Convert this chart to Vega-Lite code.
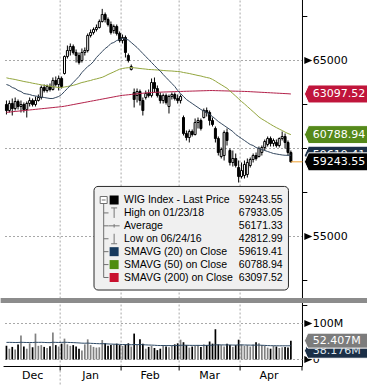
{
"$schema":"https://vega.github.io/schema/vega-lite/v6.json",
"width":307,"height":366,
"autosize":{"type":"none"},
"padding":{"left":0,"top":0,"right":60,"bottom":20},
"background":"#ffffff",
"config":{"view":{"stroke":null},"axis":{"disable":true},"legend":{"disable":true},"text":{"font":"DejaVu Sans","fontSize":11,"color":"#000000"}},
"data":{"values":[{}]},
"datasets":{
"mb":[{"b":18.5},{"b":39.5},{"b":59.5},{"b":80.5},{"b":101.8333}],
"mon":[{"m":"Dec","mid":9},{"m":"Jan","mid":29},{"m":"Feb","mid":49.5},{"m":"Mar","mid":70},{"m":"Apr","mid":90.5}],
"pt":[{"p":52500},{"p":55000},{"p":57500},{"p":60000},{"p":62500},{"p":65000},{"p":67500}],
"vt":[{"v":0},{"v":100000000},{"v":150000000}],
"leg":[
{"row":0,"lab":"WIG Index - Last Price","val":"59243.55"},
{"row":1,"lab":"High on 01/23/18","val":"67933.05"},
{"row":2,"lab":"Average","val":"56171.33"},
{"row":3,"lab":"Low on 06/24/16","val":"42812.99"},
{"row":4,"lab":"SMAVG (20) on Close","val":"59619.41"},
{"row":5,"lab":"SMAVG (50) on Close","val":"60788.94"},
{"row":6,"lab":"SMAVG (200) on Close","val":"63097.52"}],
"px":[
{"i":0,"o":62500,"h":62727,"l":61932,"c":62159,"v":38000000,"vs":47500000,"s20":63636,"s50":64017,"s200":62054},
{"i":1,"o":62159,"h":62727,"l":62045,"c":62557,"v":30000000,"vs":47600000,"s20":63580,"s50":63977,"s200":62071},
{"i":2,"o":62557,"h":62841,"l":61875,"c":62273,"v":35000000,"vs":47400000,"s20":63466,"s50":63949,"s200":62088},
{"i":3,"o":62273,"h":62898,"l":62159,"c":62670,"v":28000000,"vs":47200000,"s20":63409,"s50":63920,"s200":62105},
{"i":4,"o":62670,"h":62784,"l":62216,"c":62386,"v":42000000,"vs":47300000,"s20":63295,"s50":63881,"s200":62122},
{"i":5,"o":62386,"h":62727,"l":62045,"c":62500,"v":67000000,"vs":47800000,"s20":63239,"s50":63847,"s200":62139},
{"i":6,"o":62500,"h":62614,"l":62045,"c":62216,"v":36000000,"vs":47500000,"s20":63125,"s50":63807,"s200":62156},
{"i":7,"o":62216,"h":62670,"l":61761,"c":62557,"v":30000000,"vs":47200000,"s20":63097,"s50":63778,"s200":62173},
{"i":8,"o":62557,"h":62898,"l":62386,"c":62727,"v":45000000,"vs":47300000,"s20":63068,"s50":63750,"s200":62190},
{"i":9,"o":62727,"h":62841,"l":62386,"c":62500,"v":34000000,"vs":47100000,"s20":63011,"s50":63710,"s200":62207},
{"i":10,"o":62500,"h":62955,"l":62386,"c":62727,"v":72000000,"vs":47800000,"s20":62983,"s50":63682,"s200":62224},
{"i":11,"o":62727,"h":63068,"l":62670,"c":62898,"v":38000000,"vs":47600000,"s20":62955,"s50":63648,"s200":62241},
{"i":12,"o":62898,"h":63580,"l":62784,"c":63466,"v":40000000,"vs":47700000,"s20":62926,"s50":63619,"s200":62258},
{"i":13,"o":63466,"h":63636,"l":63182,"c":63295,"v":35000000,"vs":47400000,"s20":62898,"s50":63591,"s200":62275},
{"i":14,"o":63295,"h":63636,"l":63182,"c":63523,"v":32000000,"vs":47000000,"s20":62869,"s50":63563,"s200":62292},
{"i":15,"o":63523,"h":63693,"l":63239,"c":63352,"v":37000000,"vs":46800000,"s20":62841,"s50":63540,"s200":62309},
{"i":16,"o":63352,"h":64034,"l":63295,"c":63864,"v":75000000,"vs":47900000,"s20":62841,"s50":63511,"s200":62326},
{"i":17,"o":63864,"h":64091,"l":63523,"c":63636,"v":40000000,"vs":47600000,"s20":62898,"s50":63489,"s200":62343},
{"i":18,"o":63636,"h":64148,"l":63295,"c":63977,"v":36000000,"vs":47300000,"s20":62955,"s50":63466,"s200":62360},
{"i":19,"o":63977,"h":64091,"l":63409,"c":63523,"v":44000000,"vs":47500000,"s20":63068,"s50":63466,"s200":62377},
{"i":20,"o":64261,"h":65284,"l":64204,"c":65227,"v":58000000,"vs":48000000,"s20":63239,"s50":63494,"s200":62402},
{"i":21,"o":65227,"h":65852,"l":65114,"c":65568,"v":42000000,"vs":47600000,"s20":63409,"s50":63523,"s200":62433},
{"i":22,"o":65568,"h":65966,"l":65284,"c":65795,"v":38000000,"vs":47200000,"s20":63580,"s50":63551,"s200":62464},
{"i":23,"o":65795,"h":65909,"l":65341,"c":65455,"v":40000000,"vs":46900000,"s20":63750,"s50":63591,"s200":62495},
{"i":24,"o":65455,"h":65625,"l":64886,"c":65284,"v":36000000,"vs":46500000,"s20":63920,"s50":63636,"s200":62527},
{"i":25,"o":65284,"h":65455,"l":64773,"c":64886,"v":30000000,"vs":46000000,"s20":64091,"s50":63693,"s200":62558},
{"i":26,"o":65000,"h":65682,"l":64886,"c":65455,"v":25000000,"vs":45400000,"s20":64318,"s50":63750,"s200":62589},
{"i":27,"o":65455,"h":65739,"l":65284,"c":65568,"v":42000000,"vs":45200000,"s20":64489,"s50":63784,"s200":62620},
{"i":28,"o":65568,"h":66534,"l":65455,"c":66420,"v":56000000,"vs":45600000,"s20":64659,"s50":63830,"s200":62652},
{"i":29,"o":66420,"h":66761,"l":66307,"c":66591,"v":40000000,"vs":45000000,"s20":64773,"s50":63864,"s200":62683},
{"i":30,"o":66591,"h":66875,"l":66477,"c":66761,"v":35000000,"vs":44600000,"s20":64943,"s50":63920,"s200":62714},
{"i":31,"o":66761,"h":67045,"l":66648,"c":66875,"v":33000000,"vs":44200000,"s20":65170,"s50":63955,"s200":62745},
{"i":32,"o":66875,"h":67329,"l":66818,"c":67216,"v":34000000,"vs":43800000,"s20":65341,"s50":64000,"s200":62777},
{"i":33,"o":67216,"h":67933.05,"l":67159,"c":67614,"v":54000000,"vs":43900000,"s20":65511,"s50":64045,"s200":62808},
{"i":34,"o":67614,"h":67727,"l":67159,"c":67329,"v":45000000,"vs":43800000,"s20":65682,"s50":64119,"s200":62839},
{"i":35,"o":67329,"h":67443,"l":66932,"c":67045,"v":38000000,"vs":43200000,"s20":65795,"s50":64204,"s200":62870},
{"i":36,"o":67045,"h":67216,"l":66477,"c":66591,"v":40000000,"vs":42800000,"s20":65966,"s50":64278,"s200":62902},
{"i":37,"o":66704,"h":67045,"l":66534,"c":66932,"v":42000000,"vs":42500000,"s20":66023,"s50":64352,"s200":62933},
{"i":38,"o":66932,"h":67045,"l":66420,"c":66534,"v":44000000,"vs":42300000,"s20":66136,"s50":64432,"s200":62964},
{"i":39,"o":66534,"h":66648,"l":66023,"c":66136,"v":40000000,"vs":42000000,"s20":66193,"s50":64506,"s200":62995},
{"i":40,"o":66136,"h":66477,"l":65966,"c":66307,"v":38000000,"vs":41600000,"s20":66250,"s50":64545,"s200":63020},
{"i":41,"o":66307,"h":66420,"l":65170,"c":65455,"v":42000000,"vs":41300000,"s20":66222,"s50":64574,"s200":63037},
{"i":42,"o":65284,"h":65398,"l":64886,"c":65000,"v":45000000,"vs":41200000,"s20":66165,"s50":64591,"s200":63054},
{"i":43,"o":64489,"h":64773,"l":64432,"c":64659,"v":36000000,"vs":40800000,"s20":66023,"s50":64602,"s200":63071},
{"i":44,"o":63182,"h":63409,"l":62330,"c":62784,"v":72000000,"vs":41600000,"s20":65881,"s50":64585,"s200":63089},
{"i":45,"o":63011,"h":63409,"l":62614,"c":63239,"v":40000000,"vs":41200000,"s20":65739,"s50":64568,"s200":63106},
{"i":46,"o":63239,"h":63352,"l":62443,"c":62727,"v":56000000,"vs":41500000,"s20":65568,"s50":64545,"s200":63123},
{"i":47,"o":62727,"h":62898,"l":61875,"c":62159,"v":44000000,"vs":41200000,"s20":65398,"s50":64528,"s200":63140},
{"i":48,"o":62898,"h":63295,"l":62784,"c":63125,"v":30000000,"vs":40600000,"s20":65227,"s50":64511,"s200":63157},
{"i":49,"o":63125,"h":63352,"l":62898,"c":63011,"v":35000000,"vs":40200000,"s20":65057,"s50":64489,"s200":63174},
{"i":50,"o":63011,"h":63977,"l":62898,"c":63750,"v":38000000,"vs":40000000,"s20":64886,"s50":64483,"s200":63185},
{"i":51,"o":63750,"h":64034,"l":63182,"c":63409,"v":32000000,"vs":39600000,"s20":64716,"s50":64472,"s200":63191},
{"i":52,"o":63409,"h":63580,"l":62898,"c":63011,"v":26000000,"vs":39000000,"s20":64545,"s50":64460,"s200":63196},
{"i":53,"o":63011,"h":63182,"l":62557,"c":62727,"v":30000000,"vs":38800000,"s20":64403,"s50":64449,"s200":63202},
{"i":54,"o":62727,"h":63125,"l":62557,"c":63011,"v":40000000,"vs":38900000,"s20":64204,"s50":64432,"s200":63208},
{"i":55,"o":63011,"h":63125,"l":62500,"c":62614,"v":36000000,"vs":38700000,"s20":64034,"s50":64420,"s200":63213},
{"i":56,"o":62386,"h":63068,"l":61989,"c":62955,"v":34000000,"vs":38600000,"s20":63864,"s50":64409,"s200":63219},
{"i":57,"o":62955,"h":63182,"l":62784,"c":63068,"v":38000000,"vs":38600000,"s20":63693,"s50":64403,"s200":63225},
{"i":58,"o":63068,"h":63182,"l":62727,"c":62841,"v":42000000,"vs":38800000,"s20":63523,"s50":64386,"s200":63230},
{"i":59,"o":62841,"h":63068,"l":62557,"c":62727,"v":45000000,"vs":39000000,"s20":63295,"s50":64375,"s200":63236},
{"i":60,"o":62727,"h":63068,"l":62557,"c":62955,"v":55000000,"vs":39500000,"s20":63125,"s50":64358,"s200":63242},
{"i":61,"o":61761,"h":61875,"l":60739,"c":60852,"v":48000000,"vs":39700000,"s20":62955,"s50":64318,"s200":63247},
{"i":62,"o":60852,"h":61023,"l":60455,"c":60625,"v":40000000,"vs":39600000,"s20":62784,"s50":64290,"s200":63252},
{"i":63,"o":60625,"h":61080,"l":60341,"c":60966,"v":33000000,"vs":39300000,"s20":62670,"s50":64261,"s200":63257},
{"i":64,"o":60966,"h":61080,"l":60682,"c":60795,"v":36000000,"vs":39200000,"s20":62557,"s50":64222,"s200":63262},
{"i":65,"o":60795,"h":61705,"l":60739,"c":61477,"v":38000000,"vs":39200000,"s20":62443,"s50":64187,"s200":63267},
{"i":66,"o":61477,"h":61761,"l":61136,"c":61591,"v":40000000,"vs":39300000,"s20":62330,"s50":64148,"s200":63272},
{"i":67,"o":61591,"h":61705,"l":61023,"c":61136,"v":35000000,"vs":39100000,"s20":62216,"s50":64119,"s200":63277},
{"i":68,"o":61761,"h":62273,"l":61705,"c":62159,"v":42000000,"vs":39200000,"s20":62131,"s50":64074,"s200":63282},
{"i":69,"o":62159,"h":62330,"l":61818,"c":62045,"v":40000000,"vs":39300000,"s20":62045,"s50":64034,"s200":63287},
{"i":70,"o":62045,"h":62159,"l":61307,"c":61591,"v":50000000,"vs":39600000,"s20":61932,"s50":64000,"s200":63293},
{"i":71,"o":61591,"h":61761,"l":61250,"c":61364,"v":44000000,"vs":39700000,"s20":61818,"s50":63926,"s200":63293},
{"i":72,"o":61136,"h":61250,"l":60341,"c":60568,"v":84000000,"vs":40800000,"s20":61676,"s50":63830,"s200":63288},
{"i":73,"o":60568,"h":60682,"l":59602,"c":59773,"v":42000000,"vs":40700000,"s20":61534,"s50":63722,"s200":63284},
{"i":74,"o":59545,"h":60057,"l":59432,"c":59943,"v":40000000,"vs":40600000,"s20":61420,"s50":63625,"s200":63279},
{"i":75,"o":59602,"h":61023,"l":59318,"c":60909,"v":36000000,"vs":40400000,"s20":61307,"s50":63523,"s200":63275},
{"i":76,"o":60909,"h":61136,"l":60170,"c":60455,"v":44000000,"vs":40500000,"s20":61193,"s50":63420,"s200":63270},
{"i":77,"o":59886,"h":60000,"l":59034,"c":59205,"v":40000000,"vs":40400000,"s20":61080,"s50":63267,"s200":63266},
{"i":78,"o":59205,"h":59886,"l":58977,"c":59432,"v":35000000,"vs":40100000,"s20":60966,"s50":63125,"s200":63261},
{"i":79,"o":59432,"h":59716,"l":58920,"c":59034,"v":40000000,"vs":40100000,"s20":60795,"s50":62977,"s200":63257},
{"i":80,"o":58920,"h":59318,"l":58068,"c":58409,"v":55000000,"vs":40600000,"s20":60682,"s50":62824,"s200":63252},
{"i":81,"o":58409,"h":59205,"l":58295,"c":58750,"v":42000000,"vs":40500000,"s20":60568,"s50":62670,"s200":63248},
{"i":82,"o":58466,"h":59318,"l":58295,"c":59091,"v":38000000,"vs":40300000,"s20":60455,"s50":62534,"s200":63243},
{"i":83,"o":58523,"h":59432,"l":58352,"c":59205,"v":40000000,"vs":40200000,"s20":60341,"s50":62386,"s200":63237},
{"i":84,"o":59034,"h":59489,"l":58920,"c":59375,"v":36000000,"vs":39900000,"s20":60227,"s50":62239,"s200":63228},
{"i":85,"o":59375,"h":59716,"l":59205,"c":59602,"v":42000000,"vs":39800000,"s20":60170,"s50":62091,"s200":63219},
{"i":86,"o":59602,"h":59773,"l":59318,"c":59432,"v":48000000,"vs":40000000,"s20":60057,"s50":61943,"s200":63210},
{"i":87,"o":59545,"h":60114,"l":59489,"c":60000,"v":45000000,"vs":40100000,"s20":60000,"s50":61790,"s200":63201},
{"i":88,"o":59773,"h":60170,"l":59602,"c":60057,"v":40000000,"vs":39500000,"s20":59943,"s50":61676,"s200":63192},
{"i":89,"o":60057,"h":60511,"l":59886,"c":60398,"v":38000000,"vs":39200000,"s20":59886,"s50":61580,"s200":63183},
{"i":90,"o":60227,"h":60682,"l":60114,"c":60568,"v":33000000,"vs":38700000,"s20":59830,"s50":61477,"s200":63174},
{"i":91,"o":60568,"h":60682,"l":60114,"c":60284,"v":30000000,"vs":38400000,"s20":59773,"s50":61375,"s200":63165},
{"i":92,"o":60284,"h":60568,"l":60114,"c":60455,"v":38000000,"vs":38300000,"s20":59716,"s50":61278,"s200":63156},
{"i":93,"o":60341,"h":60511,"l":60057,"c":60170,"v":36000000,"vs":38200000,"s20":59688,"s50":61187,"s200":63147},
{"i":94,"o":60170,"h":60625,"l":60057,"c":60568,"v":32000000,"vs":38000000,"s20":59659,"s50":61102,"s200":63138},
{"i":95,"o":60568,"h":60966,"l":60455,"c":60682,"v":34000000,"vs":38100000,"s20":59631,"s50":61023,"s200":63129},
{"i":96,"o":60682,"h":60852,"l":60000,"c":60341,"v":35000000,"vs":38000000,"s20":59615,"s50":60932,"s200":63120},
{"i":97,"o":60341,"h":60455,"l":59602,"c":59773,"v":33000000,"vs":38100000,"s20":59612,"s50":60852,"s200":63111},
{"i":98,"o":59773,"h":59886,"l":59205,"c":59243.55,"v":52407000,"vs":38176000,"s20":59619.41,"s50":60788.94,"s200":63097.52}
]},
"resolve":{"scale":{"y":"independent"}},
"layer":[
{"layer":[
 {"data":{"name":"mb"},"transform":[{"filter":"datum.b < 100"}],
  "mark":{"type":"rule","color":"#a8a8a8","strokeDash":[2,2],"strokeWidth":1},
  "encoding":{"x":{"field":"b","type":"quantitative","scale":{"domain":[-0.5,101.8333],"nice":false,"zero":false}},
   "y":{"datum":70000,"type":"quantitative","scale":{"domain":[55000,65000],"range":[236.5,60.5],"nice":false,"zero":false}},
   "y2":{"datum":47613}}},
 {"data":{"name":"pt"},"transform":[{"filter":"datum.p % 5000 == 0"}],
  "mark":{"type":"rule","color":"#a8a8a8","strokeDash":[2,2],"strokeWidth":1},
  "encoding":{"x":{"datum":-0.5},"x2":{"datum":102},"y":{"field":"p","type":"quantitative"}}},
 {"mark":{"type":"rule","color":"#000000","strokeWidth":1},
  "encoding":{"x":{"datum":102},"y":{"datum":70000},"y2":{"datum":47613}}},
 {"data":{"name":"px"},"mark":{"type":"rule","color":"#000000","strokeWidth":1},
  "encoding":{"x":{"field":"i","type":"quantitative"},"y":{"field":"l","type":"quantitative"},"y2":{"field":"h"}}},
 {"data":{"name":"px"},"mark":{"type":"bar","width":2,"stroke":"#000000","strokeWidth":1},
  "encoding":{"x":{"field":"i","type":"quantitative"},"y":{"field":"o","type":"quantitative"},"y2":{"field":"c"},
   "fill":{"condition":{"test":"datum.c < datum.o","value":"#000000"},"value":"#ffffff"}}},
 {"data":{"name":"px"},"mark":{"type":"line","color":"#b3214a","strokeWidth":1},
  "encoding":{"x":{"field":"i","type":"quantitative"},"y":{"field":"s200","type":"quantitative"}}},
 {"data":{"name":"px"},"mark":{"type":"line","color":"#93a63e","strokeWidth":1},
  "encoding":{"x":{"field":"i","type":"quantitative"},"y":{"field":"s50","type":"quantitative"}}},
 {"data":{"name":"px"},"mark":{"type":"line","color":"#34485f","strokeWidth":1},
  "encoding":{"x":{"field":"i","type":"quantitative"},"y":{"field":"s20","type":"quantitative"}}},
 {"data":{"name":"px"},"transform":[{"filter":"datum.i == 98"}],
  "mark":{"type":"rule","color":"#f0a030","strokeWidth":1},
  "encoding":{"x":{"field":"i","type":"quantitative"},"x2":{"datum":102},"y":{"field":"c","type":"quantitative"}}},
 {"data":{"name":"pt"},"transform":[{"filter":"datum.p % 5000 != 0 || datum.p == 60000"}],
  "mark":{"type":"rule","color":"#000000","strokeWidth":1},
  "encoding":{"x":{"datum":102},"x2":{"datum":103.6667},"y":{"field":"p","type":"quantitative"}}},
 {"data":{"name":"pt"},"transform":[{"filter":"datum.p % 10000 == 5000"}],
  "mark":{"type":"point","shape":"M-1,-0.9L1,0L-1,0.9Z","size":64,"filled":true,"color":"#000000","opacity":1},
  "encoding":{"x":{"datum":104},"y":{"field":"p","type":"quantitative"}}},
 {"data":{"name":"pt"},"transform":[{"filter":"datum.p % 10000 == 5000"}],
  "mark":{"type":"text","align":"left","baseline":"middle","font":"DejaVu Sans","fontSize":11,"color":"#000000"},
  "encoding":{"x":{"datum":105.5},"y":{"field":"p","type":"quantitative"},"text":{"field":"p","type":"quantitative","format":"d"}}},
 {"data":{"name":"px"},"transform":[{"filter":"datum.i == 98"}],
  "encoding":{"y":{"field":"s200","type":"quantitative"}},
  "layer":[
   {"mark":{"type":"point","shape":"M0,0L0.45,-1L8,-1L8,1L0.45,1Z","size":324,"filled":true,"color":"#c0153b","stroke":"#ffffff","strokeWidth":1,"opacity":1},"encoding":{"x":{"datum":102.6667}}},
   {"mark":{"type":"text","align":"left","baseline":"middle","font":"DejaVu Sans","fontSize":11,"color":"#ffffff"},"encoding":{"x":{"datum":105.5},"text":{"field":"s200","type":"quantitative","format":".2f"}}}]},
 {"data":{"name":"px"},"transform":[{"filter":"datum.i == 98"}],
  "encoding":{"y":{"field":"s50","type":"quantitative"}},
  "layer":[
   {"mark":{"type":"point","shape":"M0,0L0.45,-1L8,-1L8,1L0.45,1Z","size":324,"filled":true,"color":"#55891a","stroke":"#ffffff","strokeWidth":1,"opacity":1},"encoding":{"x":{"datum":102.6667}}},
   {"mark":{"type":"text","align":"left","baseline":"middle","font":"DejaVu Sans","fontSize":11,"color":"#ffffff"},"encoding":{"x":{"datum":105.5},"text":{"field":"s50","type":"quantitative","format":".2f"}}}]},
 {"data":{"name":"px"},"transform":[{"filter":"datum.i == 98"}],
  "encoding":{"y":{"field":"s20","type":"quantitative"}},
  "layer":[
   {"mark":{"type":"point","shape":"M0,0L0.45,-1L8,-1L8,1L0.45,1Z","size":324,"filled":true,"color":"#1b2f47","stroke":"#ffffff","strokeWidth":1,"opacity":1},"encoding":{"x":{"datum":102.6667}}},
   {"mark":{"type":"text","align":"left","baseline":"middle","font":"DejaVu Sans","fontSize":11,"color":"#ffffff"},"encoding":{"x":{"datum":105.5},"text":{"field":"s20","type":"quantitative","format":".2f"}}}]},
 {"data":{"name":"px"},"transform":[{"filter":"datum.i == 98"}],
  "encoding":{"y":{"field":"c","type":"quantitative"}},
  "layer":[
   {"mark":{"type":"point","shape":"M0,0L0.45,-1L8,-1L8,1L0.45,1Z","size":324,"filled":true,"color":"#000000","stroke":"#ffffff","strokeWidth":1,"opacity":1},"encoding":{"x":{"datum":102.6667}}},
   {"mark":{"type":"text","align":"left","baseline":"middle","font":"DejaVu Sans","fontSize":11,"color":"#ffffff"},"encoding":{"x":{"datum":105.5},"text":{"field":"c","type":"quantitative","format":".2f"}}}]}
]},
{"layer":[
 {"data":{"name":"vt"},"transform":[{"filter":"datum.v <= 100000000"}],
  "mark":{"type":"rule","color":"#a8a8a8","strokeDash":[2,2],"strokeWidth":1},
  "encoding":{"x":{"datum":-0.5},"x2":{"datum":102},
   "y":{"field":"v","type":"quantitative","scale":{"domain":[0,100000000],"range":[359.5,323.5],"nice":false,"zero":false}}}},
 {"data":{"name":"px"},"mark":{"type":"bar","width":1.7},
  "encoding":{"x":{"field":"i","type":"quantitative"},"y":{"field":"v","type":"quantitative"},"y2":{"datum":0},
   "color":{"condition":{"test":"datum.c < datum.o","value":"#000000"},"value":"#808080"}}},
 {"data":{"name":"px"},"mark":{"type":"line","color":"#2e4a66","strokeWidth":1},
  "encoding":{"x":{"field":"i","type":"quantitative"},"y":{"field":"vs","type":"quantitative"}}},
 {"mark":{"type":"rect","color":"#8c8c8c"},
  "encoding":{"x":{"datum":-2},"x2":{"datum":125},"y":{"datum":170800000},"y2":{"datum":156900000}}},
 {"mark":{"type":"rule","color":"#000000","strokeWidth":1},
  "encoding":{"x":{"datum":-1},"x2":{"datum":102},"y":{"datum":-19444444}}},
 {"data":{"name":"mb"},"mark":{"type":"rule","color":"#000000","strokeWidth":1},
  "encoding":{"x":{"field":"b","type":"quantitative"},"y":{"datum":-19444444},"y2":{"datum":-30555556}}},
 {"mark":{"type":"rule","color":"#a8a8a8","strokeDash":[2,2],"strokeWidth":1},
  "encoding":{"x":{"datum":18.5},"y":{"datum":-30555556},"y2":{"datum":-90000000}}},
 {"data":{"name":"mon"},"mark":{"type":"text","align":"center","baseline":"middle","font":"DejaVu Sans","fontSize":11,"color":"#000000"},
  "encoding":{"x":{"field":"mid","type":"quantitative"},"y":{"datum":-45800000},"text":{"field":"m"}}},
 {"data":{"name":"vt"},"transform":[{"filter":"datum.v > 100000000"}],
  "mark":{"type":"rule","color":"#000000","strokeWidth":1},
  "encoding":{"x":{"datum":102},"x2":{"datum":103.6667},"y":{"field":"v","type":"quantitative"}}},
 {"data":{"name":"vt"},"transform":[{"filter":"datum.v <= 100000000"}],
  "mark":{"type":"point","shape":"M-1,-0.9L1,0L-1,0.9Z","size":64,"filled":true,"color":"#000000","opacity":1},
  "encoding":{"x":{"datum":104},"y":{"field":"v","type":"quantitative"}}},
 {"data":{"name":"vt"},"transform":[{"filter":"datum.v <= 100000000"}],
  "mark":{"type":"text","align":"left","baseline":"middle","font":"DejaVu Sans","fontSize":11,"color":"#000000"},
  "encoding":{"x":{"datum":105.5},"y":{"field":"v","type":"quantitative"},"text":{"field":"v","type":"quantitative","format":"~s"}}},
 {"data":{"name":"px"},"transform":[{"filter":"datum.i == 98"}],
  "encoding":{"y":{"field":"vs","type":"quantitative"}},
  "layer":[
   {"mark":{"type":"point","shape":"M0,0L0.45,-1L9,-1L9,1L0.45,1Z","size":225,"filled":true,"color":"#1b2f47","stroke":"#ffffff","strokeWidth":1,"opacity":1,"yOffset":5},"encoding":{"x":{"datum":102.6667}}},
   {"mark":{"type":"text","align":"left","baseline":"middle","font":"DejaVu Sans","fontSize":11,"color":"#dfe6ee","yOffset":5},"encoding":{"x":{"datum":105.5},"text":{"field":"vs","type":"quantitative","format":".5s"}}}]},
 {"data":{"name":"px"},"transform":[{"filter":"datum.i == 98"}],
  "encoding":{"y":{"field":"v","type":"quantitative"}},
  "layer":[
   {"mark":{"type":"point","shape":"M0,0L0.45,-1L9,-1L9,1L0.45,1Z","size":225,"filled":true,"color":"#7c7c7c","stroke":"#ffffff","strokeWidth":1,"opacity":1},"encoding":{"x":{"datum":102.6667}}},
   {"mark":{"type":"text","align":"left","baseline":"middle","font":"DejaVu Sans","fontSize":11,"color":"#ffffff"},"encoding":{"x":{"datum":105.5},"text":{"field":"v","type":"quantitative","format":".5s"}}}]}
]},
{"layer":[
 {"mark":{"type":"rect","cornerRadius":4,"fill":"#f0f0f0","stroke":"#2a2a2a","strokeWidth":1},
  "encoding":{"x":{"datum":30.1667},"x2":{"datum":97.1667},
   "y":{"datum":-1.05,"type":"quantitative","scale":{"domain":[0,6],"range":[200,277.5],"nice":false,"zero":false}},
   "y2":{"datum":6.97}}},
 {"mark":{"type":"rule","color":"#707070","strokeWidth":1},
  "encoding":{"x":{"datum":33.5},"y":{"datum":0.3},"y2":{"datum":6}}},
 {"data":{"name":"leg"},"transform":[{"filter":"datum.row >= 1"}],
  "mark":{"type":"rule","color":"#707070","strokeWidth":1},
  "encoding":{"x":{"datum":33.5},"x2":{"datum":35.1667},"y":{"field":"row","type":"quantitative"}}},
 {"mark":{"type":"point","shape":"M-1,-1H1V1H-1ZM-0.55,0H0.55","size":49,"fill":"#ffffff","stroke":"#707070","strokeWidth":1,"opacity":1},
  "encoding":{"x":{"datum":33.5},"y":{"datum":0}}},
 {"data":{"name":"leg"},"transform":[{"filter":"datum.row == 0 || datum.row >= 4"}],
  "mark":{"type":"point","shape":"square","size":81,"filled":true,"opacity":1},
  "encoding":{"x":{"datum":37.1},"y":{"field":"row","type":"quantitative"},
   "color":{"field":"lab","type":"nominal","legend":null,
    "scale":{"domain":["WIG Index - Last Price","SMAVG (20) on Close","SMAVG (50) on Close","SMAVG (200) on Close"],"range":["#000000","#173a5e","#4e8c10","#c8102e"]}}}},
 {"data":{"name":"leg"},"transform":[{"filter":"datum.row == 1"}],
  "mark":{"type":"point","shape":"M-0.6,-1H0.6M0,-1V1","size":100,"filled":false,"color":"#777777","strokeWidth":1,"opacity":1},
  "encoding":{"x":{"datum":37.1},"y":{"field":"row","type":"quantitative"}}},
 {"data":{"name":"leg"},"transform":[{"filter":"datum.row == 2"}],
  "mark":{"type":"point","shape":"M-1.1,0H1.1M0,-0.35V0.35","size":100,"filled":false,"color":"#777777","strokeWidth":1,"opacity":1},
  "encoding":{"x":{"datum":37.1},"y":{"field":"row","type":"quantitative"}}},
 {"data":{"name":"leg"},"transform":[{"filter":"datum.row == 3"}],
  "mark":{"type":"point","shape":"M0,-1V1M-0.6,1H0.6","size":100,"filled":false,"color":"#777777","strokeWidth":1,"opacity":1},
  "encoding":{"x":{"datum":37.1},"y":{"field":"row","type":"quantitative"}}},
 {"data":{"name":"leg"},
  "mark":{"type":"text","align":"left","baseline":"middle","font":"Liberation Sans","fontSize":10.5,"color":"#000000"},
  "encoding":{"x":{"datum":40.5},"y":{"field":"row","type":"quantitative"},"text":{"field":"lab"}}},
 {"data":{"name":"leg"},
  "mark":{"type":"text","align":"right","baseline":"middle","font":"Liberation Sans","fontSize":10.5,"color":"#000000"},
  "encoding":{"x":{"datum":95.1667},"y":{"field":"row","type":"quantitative"},"text":{"field":"val"}}}
]}
]
}
